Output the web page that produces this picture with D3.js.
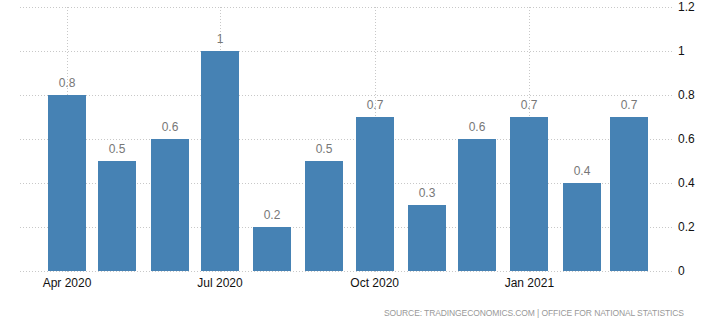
<!DOCTYPE html>
<html><head><meta charset="utf-8">
<script src="https://cdn.jsdelivr.net/npm/d3@7"></script>
<style>body{margin:0;background:#fff}svg{display:block}text{font-family:"Liberation Sans",Arial,sans-serif}</style>
</head><body>
<svg id="c" width="706" height="328"></svg>
<script>
const months = ["2020-04","2020-05","2020-06","2020-07","2020-08","2020-09","2020-10","2020-11","2020-12","2021-01","2021-02","2021-03"];
const values = [0.8,0.5,0.6,1,0.2,0.5,0.7,0.3,0.6,0.7,0.4,0.7];
const yTicks = [0,0.2,0.4,0.6,0.8,1,1.2];
const xTickMonths = ["2020-04","2020-07","2020-10","2021-01"];
const xTickLabels = ["Apr 2020","Jul 2020","Oct 2020","Jan 2021"];
const sourceText = "SOURCE: TRADINGECONOMICS.COM  |  OFFICE FOR NATIONAL STATISTICS";

(function(){
const parse = d3.timeParse("%Y-%m");
const svg = d3.select("#c");
const pLeft = 20, pRight = 674, pTop = 7, pBottom = 271;
const x = d3.scaleTime().domain([parse("2020-04"), parse("2021-03")]).range([67, 628.6]);
const y = d3.scaleLinear().domain([0,1.2]).range([pBottom, pTop]);
const bw = 38;

svg.append("g").selectAll("line").data(yTicks).join("line")
  .attr("x1", pLeft).attr("x2", pRight)
  .attr("y1", d => Math.round(y(d))+0.5).attr("y2", d => Math.round(y(d))+0.5)
  .attr("stroke", "#c8c8c8").attr("stroke-dasharray", "1,2");
svg.append("g").selectAll("line").data(xTickMonths).join("line")
  .attr("x1", d => Math.round(x(parse(d)))+0.5).attr("x2", d => Math.round(x(parse(d)))+0.5)
  .attr("y1", pTop).attr("y2", pBottom+3)
  .attr("stroke", "#c8c8c8").attr("stroke-dasharray", "1,2");

svg.append("g").selectAll("rect").data(values).join("rect")
  .attr("x", (d,i) => Math.round(x(parse(months[i])) - bw/2))
  .attr("width", bw)
  .attr("y", d => y(d))
  .attr("height", d => y(0) - y(d))
  .attr("fill", "#4682b4");

svg.append("g").selectAll("text").data(values).join("text")
  .attr("x", (d,i) => Math.round(x(parse(months[i]))))
  .attr("y", d => y(d) - 8)
  .attr("text-anchor", "middle")
  .attr("font-size", 12)
  .attr("fill", "#777")
  .text(d => d);

svg.append("g").selectAll("text").data(yTicks).join("text")
  .attr("x", 678)
  .attr("y", d => y(d) + 4)
  .attr("font-size", 12)
  .attr("fill", "#111")
  .text(d => d);

svg.append("g").selectAll("text").data(xTickMonths).join("text")
  .attr("x", d => x(parse(d)))
  .attr("y", 287)
  .attr("text-anchor", "middle")
  .attr("font-size", 12)
  .attr("fill", "#111")
  .text((d,i) => xTickLabels[i]);

svg.append("text")
  .attr("x", 384).attr("y", 316)
  .attr("font-size", 8.5)
  .attr("textLength", 300)
  .attr("lengthAdjust", "spacing")
  .attr("fill", "#999")
  .text(sourceText);
})();
</script>
</body></html>
